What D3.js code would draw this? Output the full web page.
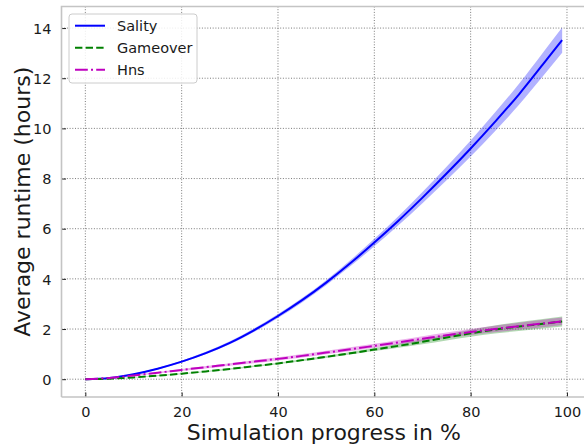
<!DOCTYPE html>
<html lang="en">
<head>
  <meta charset="utf-8">
  <title>Average runtime</title>
  <script src="https://cdn.jsdelivr.net/npm/d3@7"></script>
  <style>
    * { margin: 0; padding: 0; }
    body { background: #fff; }
    text { font-family: "DejaVu Sans", sans-serif; fill: #1a1a1a; }
  </style>
</head>
<body>
  <div id="chart"></div>
  <script>
    // simulation progress (%)
    var progress = [0, 5, 10, 15, 20, 25, 30, 35, 40, 45, 50, 55, 60, 65, 70, 75, 80, 85, 90, 95, 99];
    // mean runtime (hours) and half width of the shaded band, per series
    var salityMean = [0, 0.05, 0.2, 0.42, 0.7, 1.04, 1.45, 1.95, 2.52, 3.15, 3.85, 4.62, 5.45, 6.32, 7.24, 8.2, 9.2, 10.25, 11.35, 12.55, 13.52];
    var salitySpread = [0, 0.01, 0.02, 0.03, 0.04, 0.05, 0.06, 0.07, 0.08, 0.09, 0.1, 0.12, 0.15, 0.18, 0.22, 0.27, 0.32, 0.37, 0.42, 0.47, 0.5];
    var gameoverMean = [0, 0.02, 0.07, 0.14, 0.22, 0.31, 0.41, 0.52, 0.63, 0.76, 0.89, 1.03, 1.18, 1.33, 1.49, 1.66, 1.83, 1.98, 2.1, 2.21, 2.3];
    var gameoverSpread = [0, 0.01, 0.01, 0.02, 0.02, 0.02, 0.03, 0.03, 0.03, 0.04, 0.04, 0.05, 0.06, 0.08, 0.1, 0.12, 0.14, 0.16, 0.18, 0.19, 0.2];
    var hnsMean = [0, 0.05, 0.15, 0.26, 0.37, 0.48, 0.59, 0.7, 0.81, 0.93, 1.06, 1.19, 1.33, 1.47, 1.61, 1.75, 1.88, 2.0, 2.11, 2.22, 2.31];
    var hnsSpread = [0, 0.01, 0.02, 0.03, 0.04, 0.05, 0.05, 0.06, 0.06, 0.07, 0.07, 0.08, 0.08, 0.09, 0.1, 0.11, 0.12, 0.13, 0.14, 0.15, 0.15];
    var seriesNames = ["Sality", "Gameover", "Hns"];
    var xTicks = [0, 20, 40, 60, 80, 100];
    var yTicks = [0, 2, 4, 6, 8, 10, 12, 14];

    var svgWidth = 584, svgHeight = 445;
    var plot = { left: 61.5, right: 586, top: 6.5, bottom: 397 };

    var series = [
      { name: seriesNames[0], mean: salityMean, spread: salitySpread, color: "#0000ff", dash: null },
      { name: seriesNames[1], mean: gameoverMean, spread: gameoverSpread, color: "#008000", dash: "7.4,3.2" },
      { name: seriesNames[2], mean: hnsMean, spread: hnsSpread, color: "#bf00bf", dash: "12.8,3.2,2,3.2" }
    ];

    var svg = d3.select("#chart").append("svg")
        .attr("width", svgWidth)
        .attr("height", svgHeight);

    svg.append("rect").attr("width", svgWidth).attr("height", svgHeight).attr("fill", "#fff");

    var x = d3.scaleLinear().domain([-4.95, 103.95]).range([plot.left, plot.right]);
    var y = d3.scaleLinear().domain([-0.71, 14.86]).range([plot.bottom, plot.top]);

    svg.append("clipPath").attr("id", "clip")
      .append("rect")
        .attr("x", plot.left).attr("y", plot.top)
        .attr("width", plot.right - plot.left).attr("height", plot.bottom - plot.top);

    // grid
    var grid = svg.append("g").attr("clip-path", "url(#clip)");
    grid.selectAll("line.gx").data(xTicks).enter().append("line")
        .attr("x1", function(d) { return x(d); }).attr("x2", function(d) { return x(d); })
        .attr("y1", plot.top).attr("y2", plot.bottom)
        .attr("stroke", "#7a7a7a").attr("stroke-width", 1).attr("stroke-dasharray", "1,1.7");
    grid.selectAll("line.gy").data(yTicks).enter().append("line")
        .attr("y1", function(d) { return y(d); }).attr("y2", function(d) { return y(d); })
        .attr("x1", plot.left).attr("x2", plot.right)
        .attr("stroke", "#7a7a7a").attr("stroke-width", 1).attr("stroke-dasharray", "1,1.7");

    // bands and lines
    var body = svg.append("g").attr("clip-path", "url(#clip)");
    var area = d3.area()
        .x(function(d, i) { return x(progress[i]); })
        .y0(function(d) { return y(d.lo); })
        .y1(function(d) { return y(d.hi); })
        .curve(d3.curveMonotoneX);
    var line = d3.line()
        .x(function(d, i) { return x(progress[i]); })
        .y(function(d) { return y(d); })
        .curve(d3.curveMonotoneX);

    series.forEach(function(s) {
      var band = s.mean.map(function(m, i) { return { lo: m - s.spread[i], hi: m + s.spread[i] }; });
      body.append("path").datum(band)
          .attr("d", area)
          .attr("fill", s.color).attr("fill-opacity", 0.3);
    });
    series.forEach(function(s) {
      body.append("path").datum(s.mean)
          .attr("d", line)
          .attr("fill", "none")
          .attr("stroke", s.color).attr("stroke-width", 2)
          .attr("stroke-dasharray", s.dash);
    });

    // axes
    var xAxisG = svg.append("g")
        .attr("transform", "translate(0," + plot.bottom + ")")
        .call(d3.axisBottom(x).tickValues(xTicks).tickSizeInner(-4.5).tickSizeOuter(0).tickPadding(10));
    var yAxisG = svg.append("g")
        .attr("transform", "translate(" + plot.left + ",0)")
        .call(d3.axisLeft(y).tickValues(yTicks).tickSizeInner(-4.5).tickSizeOuter(0).tickPadding(10));
    [xAxisG, yAxisG].forEach(function(g) {
      g.select("path.domain").remove();
      g.selectAll("line").attr("stroke", "#222").attr("stroke-width", 1);
      g.selectAll("text").attr("font-size", "14.5px").attr("fill", "#1a1a1a")
          .attr("font-family", "DejaVu Sans, sans-serif");
    });
    yAxisG.selectAll("text").attr("dy", "0.36em");

    // spines
    svg.append("path")
        .attr("d", "M" + plot.left + "," + plot.bottom + "V" + plot.top + "H" + plot.right +
                   "M" + plot.left + "," + plot.bottom + "H" + plot.right)
        .attr("fill", "none").attr("stroke", "#c4c4c4").attr("stroke-width", 1.6);

    // axis labels
    svg.append("text")
        .attr("x", (plot.left + plot.right) / 2)
        .attr("y", 440)
        .attr("text-anchor", "middle")
        .attr("font-size", "22px")
        .text("Simulation progress in %");
    svg.append("text")
        .attr("transform", "translate(30," + ((plot.top + plot.bottom) / 2) + ") rotate(-90)")
        .attr("text-anchor", "middle")
        .attr("font-size", "22px")
        .text("Average runtime (hours)");

    // legend
    var legend = svg.append("g").attr("transform", "translate(69,14)");
    legend.append("rect")
        .attr("width", 128).attr("height", 69).attr("rx", 3)
        .attr("fill", "#fff").attr("fill-opacity", 0.85)
        .attr("stroke", "#cccccc").attr("stroke-width", 1);
    series.forEach(function(s, i) {
      var ly = 11.7 + i * 22;
      legend.append("line")
          .attr("x1", 6).attr("x2", 36).attr("y1", ly).attr("y2", ly)
          .attr("stroke", s.color).attr("stroke-width", 2)
          .attr("stroke-dasharray", s.dash);
      legend.append("text")
          .attr("x", 48).attr("y", ly).attr("dy", "0.36em")
          .attr("font-size", "14.5px")
          .text(s.name);
    });
  </script>
</body>
</html>
